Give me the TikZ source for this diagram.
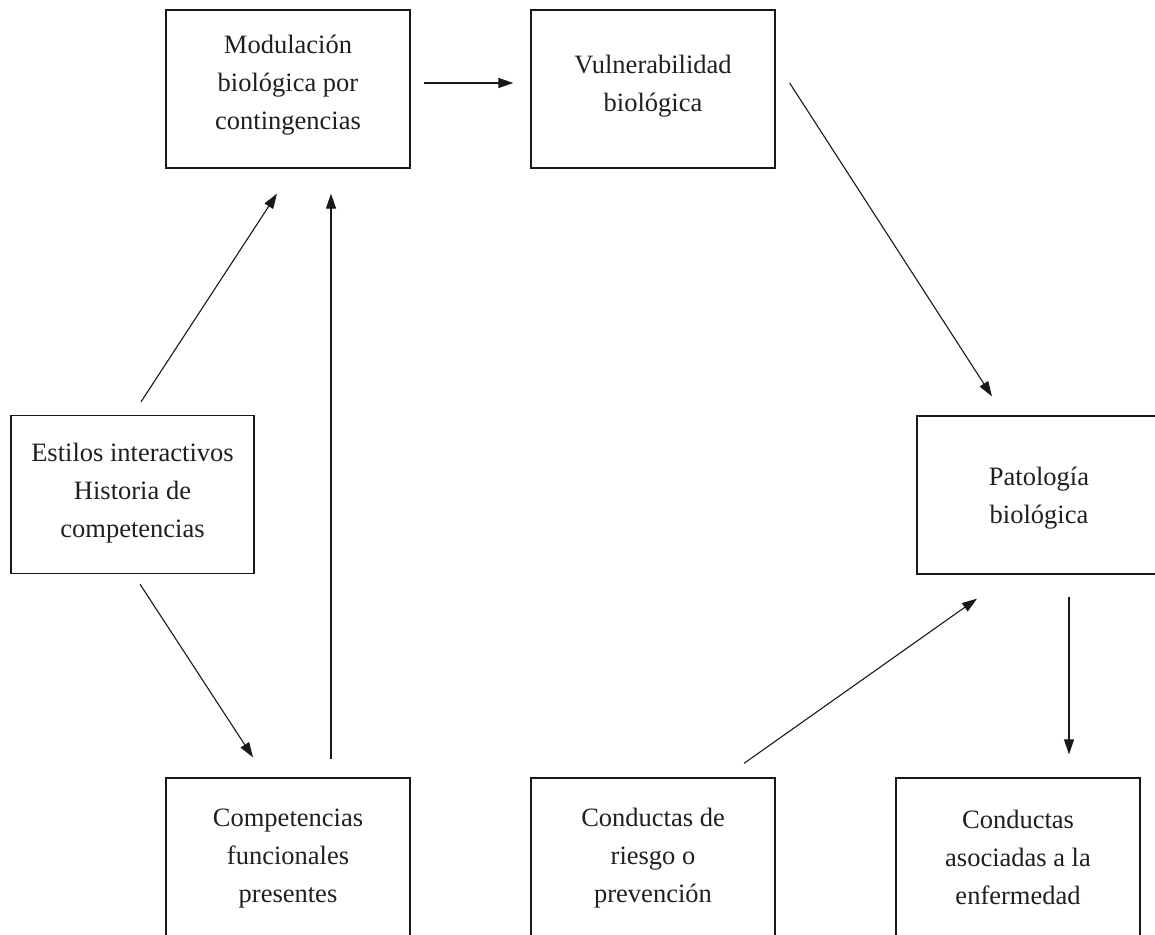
\documentclass[tikz,border=0pt]{standalone}
\usepackage{fontspec}
\setmainfont{Liberation Serif}
\usetikzlibrary{arrows.meta}
\begin{document}
\begin{tikzpicture}[x=1pt,y=-1pt,
  box/.style={draw=black!90, line width=1.3pt, minimum width=244pt, minimum height=158pt, inner sep=0pt},
  txt/.style={align=center, inner sep=0pt, font=\fontsize{26.5}{38}\selectfont, text=black!88},
  arr/.style={line width=1.1pt, draw=black!90, -{Triangle[length=15pt,width=10pt]}}]
\clip (0,0) rectangle (1155,934);
\fill[white] (0,0) rectangle (1155,934);
\node[box] (mod) at (288,89) {};
\node[txt] (modt) at ([yshift=4pt]mod.center) {Modulación\\biológica por\\contingencias};
\node[box] (vul) at (653,89) {};
\node[txt] (vult) at ([yshift=3pt]vul.center) {Vulnerabilidad\\biológica};
\node[box, minimum width=243pt] (est) at (132.5,494.5) {};
\node[txt] (estt) at ([yshift=1pt]est.center) {Estilos interactivos\\Historia de\\competencias};
\node[box] (pat) at (1039,495) {};
\node[txt] (patt) at ([yshift=-3pt]pat.center) {Patología\\biológica};
\node[box] (comp) at (288,857) {};
\node[txt] (compt) at ([yshift=-2pt]comp.center) {Competencias\\funcionales\\presentes};
\node[box] (ries) at (653,857) {};
\node[txt] (riest) at ([yshift=-1pt]ries.center) {Conductas de\\riesgo o\\prevención};
\node[box] (aso) at (1018,857) {};
\node[txt] (asot) at (aso.center) {Conductas\\asociadas a la\\enfermedad};
\draw[arr] ([shift={(13,-6)}]mod.east) -- ([shift={(-17,-6)}]vul.west);
\draw[arr] ([shift={(14,-6)}]vul.east) -- ([shift={(-47,-19)}]pat.north);
\draw[arr] ([shift={(8.5,-13)}]est.north) -- ([shift={(-11,25)}]mod.south);
\draw[arr] ([shift={(43,-18)}]comp.north) -- ([shift={(43,25)}]mod.south);
\draw[arr] ([shift={(7.5,10)}]est.south) -- ([shift={(-35,-20)}]comp.north);
\draw[arr] ([shift={(91,-14)}]ries.north) -- ([shift={(-62,24)}]pat.south);
\draw[arr] ([shift={(30,22)}]pat.south) -- ([shift={(51,-23)}]aso.north);
\end{tikzpicture}
\end{document}
